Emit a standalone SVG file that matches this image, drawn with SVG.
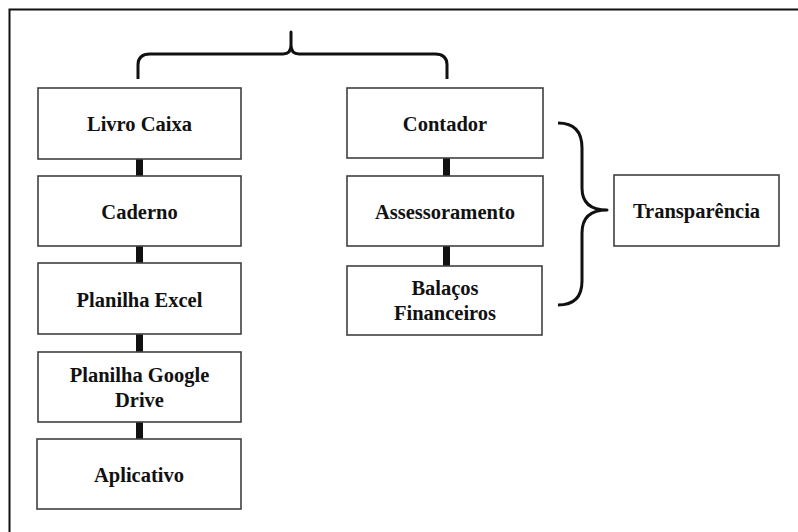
<svg xmlns="http://www.w3.org/2000/svg" width="798" height="532" viewBox="0 0 798 532">
<style>
.box{fill:#fff;stroke:#404040;stroke-width:1.6}
.t{font-family:"Liberation Serif","Times New Roman",serif;font-weight:bold;font-size:20.5px;fill:#111;text-anchor:middle}
.brace{fill:none;stroke:#111;stroke-width:3;stroke-linejoin:round;stroke-linecap:butt}
.link{fill:#111}
</style>
<rect x="0" y="0" width="798" height="532" fill="#fff"/>
<path d="M9.5,532 V9.5 H798" fill="none" stroke="#111" stroke-width="2"/>
<g id="connectors">
<rect class="link" x="136" y="159" width="7" height="17"/>
<rect class="link" x="136" y="246" width="7" height="17"/>
<rect class="link" x="136" y="334" width="7" height="18"/>
<rect class="link" x="136" y="422" width="7" height="17"/>
<rect class="link" x="443" y="158" width="7" height="18"/>
<rect class="link" x="443" y="246" width="7" height="20"/>
<path class="brace" d="M138,79 V65 Q138,54 150,54 H283 Q291,54 291,45 V32 V45 Q291,54 299,54 H435 Q447,54 447,65 V79"/>
<path class="brace" d="M558,123 Q582,123 582,148 V188 Q582,210 607,210 Q582,210 582,233 V281 Q582,305 558,305"/>
</g>
<g id="livro-caixa"><rect class="box" x="38" y="88" width="203" height="71"/><text class="t" x="139.5" y="131">Livro Caixa</text></g>
<g id="caderno"><rect class="box" x="38" y="176" width="203" height="70"/><text class="t" x="139.5" y="219">Caderno</text></g>
<g id="planilha-excel"><rect class="box" x="38" y="263" width="203" height="71"/><text class="t" x="139.5" y="307">Planilha Excel</text></g>
<g id="planilha-google-drive"><rect class="box" x="38" y="352" width="203" height="70"/><text class="t" x="139.5" y="382">Planilha Google</text><text class="t" x="139.5" y="407">Drive</text></g>
<g id="aplicativo"><rect class="box" x="37" y="439" width="204" height="70"/><text class="t" x="139" y="482">Aplicativo</text></g>
<g id="contador"><rect class="box" x="347" y="88" width="196" height="70"/><text class="t" x="445" y="131">Contador</text></g>
<g id="assessoramento"><rect class="box" x="347" y="176" width="196" height="70"/><text class="t" x="445" y="219">Assessoramento</text></g>
<g id="balacos-financeiros"><rect class="box" x="347" y="266" width="195" height="69"/><text class="t" x="445" y="295">Balaços</text><text class="t" x="445" y="320">Financeiros</text></g>
<g id="transparencia"><rect class="box" x="614" y="175" width="165" height="71"/><text class="t" x="696.5" y="218">Transparência</text></g>
</svg>
